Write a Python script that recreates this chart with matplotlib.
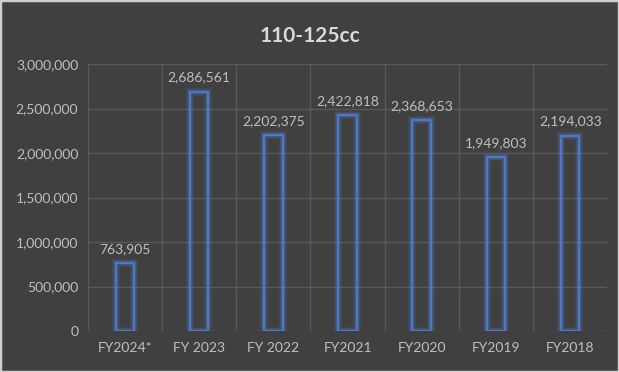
import numpy as np
import matplotlib.pyplot as plt
from matplotlib.ticker import FuncFormatter, MultipleLocator

plt.rcParams['font.family'] = ['Lato', 'DejaVu Sans']

years = ['FY2024*', 'FY 2023', 'FY 2022', 'FY2021', 'FY2020', 'FY2019', 'FY2018']
units = [763905, 2686561, 2202375, 2422818, 2368653, 1949803, 2194033]

bg = '#404040'
txt = '#BFBFBF'
grid = '#595959'

fig = plt.figure(figsize=(6.19, 3.72), dpi=100, facecolor=bg)
ax = fig.add_axes([0.142, 0.110, 0.839, 0.718], facecolor=bg)

x = np.arange(len(years))
# glow around the hollow bars
for lw, a in [(6, 0.08), (4.5, 0.12), (3, 0.2)]:
    ax.bar(x, units, width=0.25, facecolor='none', edgecolor='#5B8FE8', linewidth=lw, alpha=a, zorder=3)
ax.bar(x, units, width=0.25, facecolor='none', edgecolor='#4A7BD4', linewidth=1.3, zorder=4)

for xi, v in zip(x, units):
    ax.annotate(f'{v:,}', (xi, v), xytext=(0, 6), textcoords='offset points',
                ha='center', va='bottom', color=txt, fontsize=10)

ax.set_xlim(-0.5, len(years) - 0.5)
ax.set_ylim(0, 3000000)
ax.yaxis.set_major_locator(MultipleLocator(500000))
ax.yaxis.set_major_formatter(FuncFormatter(lambda v, p: f'{int(v):,}'))
ax.set_xticks(x)
ax.set_xticklabels(years)
ax.set_xticks(np.arange(-0.5, len(years)), minor=True)
ax.grid(axis='y', which='major', color=grid, linewidth=1)
ax.grid(axis='x', which='minor', color=grid, linewidth=1)
ax.set_axisbelow(True)
ax.tick_params(axis='both', which='both', length=0, colors=txt, labelsize=10)
ax.tick_params(axis='x', pad=8)
ax.tick_params(axis='y', pad=7)
for s in ax.spines.values():
    s.set_visible(False)

fig.text(0.5, 0.903, '110-125cc', ha='center', va='center', color='#D9D9D9',
         fontsize=15, fontweight='bold')

# light border around the chart
fig.patches.append(plt.Rectangle((0, 0), 1, 1, transform=fig.transFigure, fill=False,
                                 edgecolor='#D0D0D0', linewidth=2.5))

fig.savefig('out.png', dpi=100, facecolor=bg)
